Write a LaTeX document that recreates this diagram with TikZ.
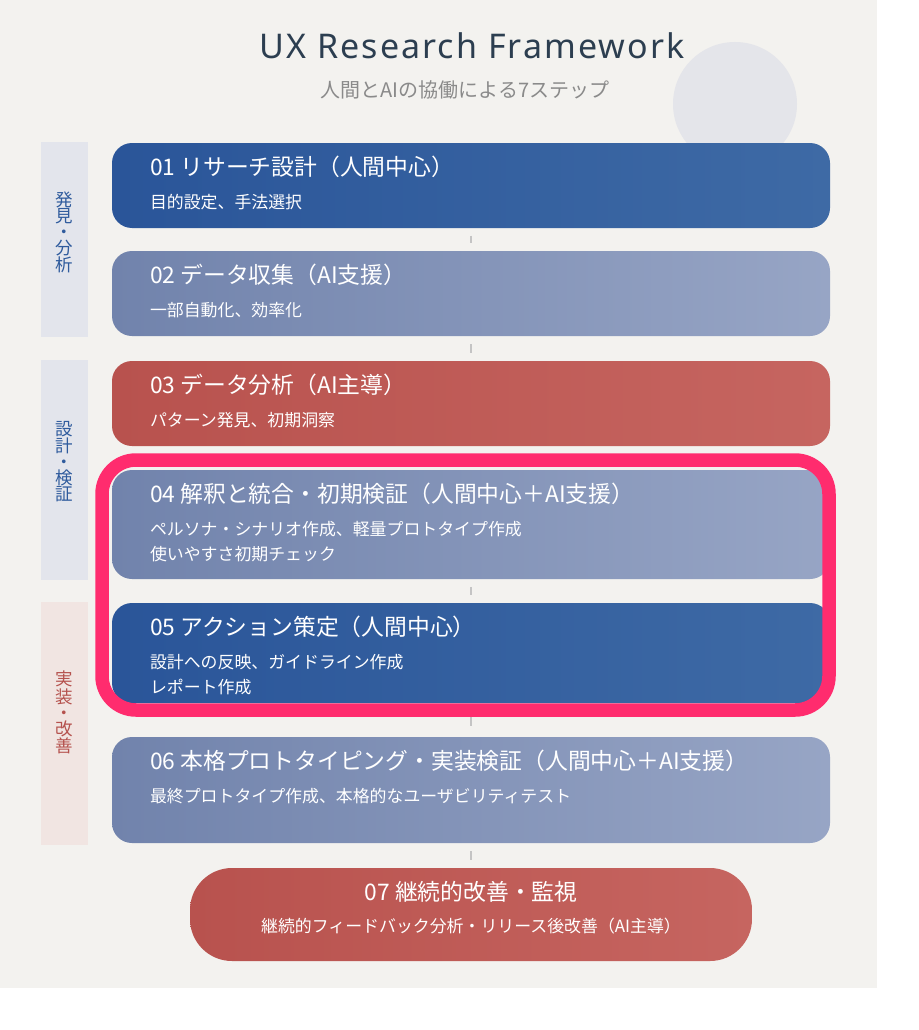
\documentclass[tikz,border=0pt]{standalone}
\usepackage{fontspec}
\setmainfont{Noto Sans CJK JP}
\newfontfamily\titlefont{Noto Sans}[LetterSpace=6]
\usepackage{tikz}
\usetikzlibrary{calc}
\definecolor{panel}{HTML}{F3F2EF}
\definecolor{deco}{HTML}{E4E5EA}
\definecolor{navy}{HTML}{2C3E50}
\definecolor{subgray}{HTML}{8A8A8A}
\definecolor{blueL}{HTML}{2A5599}
\definecolor{blueR}{HTML}{3E6AA5}
\definecolor{slateL}{HTML}{7183AC}
\definecolor{slateR}{HTML}{97A5C5}
\definecolor{redL}{HTML}{B8524E}
\definecolor{redR}{HTML}{C66560}
\definecolor{stripB}{HTML}{E3E5EC}
\definecolor{stripR}{HTML}{F1E5E2}
\definecolor{labB}{HTML}{2F5B9D}
\definecolor{labR}{HTML}{B5524E}
\definecolor{hot}{HTML}{FF2C6E}
\definecolor{tick}{HTML}{C4C4C4}

\begin{document}
\begin{tikzpicture}[x=1pt, y=-1pt,
    stepbox/.style={rounded corners=20pt, minimum width=718pt, inner sep=0pt, draw=none},
    steptitle/.style={anchor=base west, inner sep=0pt, text=white, font=\fontsize{22.8}{26}\selectfont},
    stepnote/.style={anchor=north west, inner sep=0pt, text=white, align=left, font=\fontsize{16.9}{25}\selectfont},
    phase/.style={minimum width=47pt, inner sep=0pt, fill=#1},
    phaselabel/.style={text=#1, align=center, inner sep=0pt, font=\fontsize{17.5}{16}\selectfont},
    link/.style={draw=tick, line width=1.5pt}]

  \useasboundingbox (0,0) rectangle (918,1030);
  \fill[white] (0,0) rectangle (918,1030);
  \fill[panel] (0,0) rectangle (877,988);
  \fill[deco] (735,104) circle (62pt);

  % title
  \node[font=\titlefont\fontsize{34}{40}\selectfont, text=navy, anchor=base] (title) at (472,59) {UX Research Framework};
  \node[font=\fontsize{20}{22}\selectfont, text=subgray, anchor=base] (subtitle) at (465,98) {人間とAIの協働による7ステップ};

  % phases
  \node[phase=stripB, minimum height=195pt] (ph1) at (64.5,239.5) {};
  \node[phase=stripB, minimum height=220pt] (ph2) at (64.5,470) {};
  \node[phase=stripR, minimum height=243pt] (ph3) at (64.5,723.5) {};
  \node[phaselabel=labB] (pl1) at ($(ph1.center)+(0,-7)$) {発\\見\\・\\分\\析};
  \node[phaselabel=labB] (pl2) at ($(ph2.center)+(0,-8)$) {設\\計\\・\\検\\証};
  \node[phaselabel=labR] (pl3) at ($(ph3.center)+(0,-11)$) {実\\装\\・\\改\\善};

  % steps
  \foreach \n/\y/\h/\ca/\cb/\t/\s in {
    01/185.5/85/blueL/blueR/{01 リサーチ設計（人間中心）}/{目的設定、手法選択},
    02/293.5/85/slateL/slateR/{02 データ収集（AI支援）}/{一部自動化、効率化},
    03/403.5/85/redL/redR/{03 データ分析（AI主導）}/{パターン発見、初期洞察},
    04/524.5/109/slateL/slateR/{04 解釈と統合・初期検証（人間中心＋AI支援）}/{ペルソナ・シナリオ作成、軽量プロトタイプ作成\\使いやすさ初期チェック},
    05/653/100/blueL/blueR/{05 アクション策定（人間中心）}/{設計への反映、ガイドライン作成\\レポート作成},
    06/790/106/slateL/slateR/{06 本格プロトタイピング・実装検証（人間中心＋AI支援）}/{最終プロトタイプ作成、本格的なユーザビリティテスト}
  }{
    \node[stepbox, minimum height=\h pt, left color=\ca, right color=\cb] (s\n) at (471,\y) {};
    \node[steptitle] (t\n) at ($(s\n.north west)+(38,33)$) {\t};
    \node[stepnote] (n\n) at ($(s\n.north west)+(38,51)$) {\s};
  }

  \node[stepbox, minimum width=562pt, minimum height=93pt, rounded corners=42pt, left color=redL, right color=redR] (s07) at (471,914.5) {};
  \node[steptitle, anchor=base] (t07) at ($(s07.north)+(0,33)$) {07 継続的改善・監視};
  \node[steptitle, anchor=base, font=\fontsize{16.9}{25}\selectfont] (n07) at ($(s07.north)+(0,65)$) {継続的フィードバック分析・リリース後改善（AI主導）};

  % links
  \foreach \a/\b in {01/02, 02/03, 03/04, 04/05, 05/06, 06/07}
    \draw[link] ($(s\a.south)!.33!(s\b.north)$) -- ($(s\a.south)!.67!(s\b.north)$);

  % focus frame
  \draw[hot, line width=13.5pt, rounded corners=34pt] (102,460) rectangle (829,710);

\end{tikzpicture}
\end{document}
